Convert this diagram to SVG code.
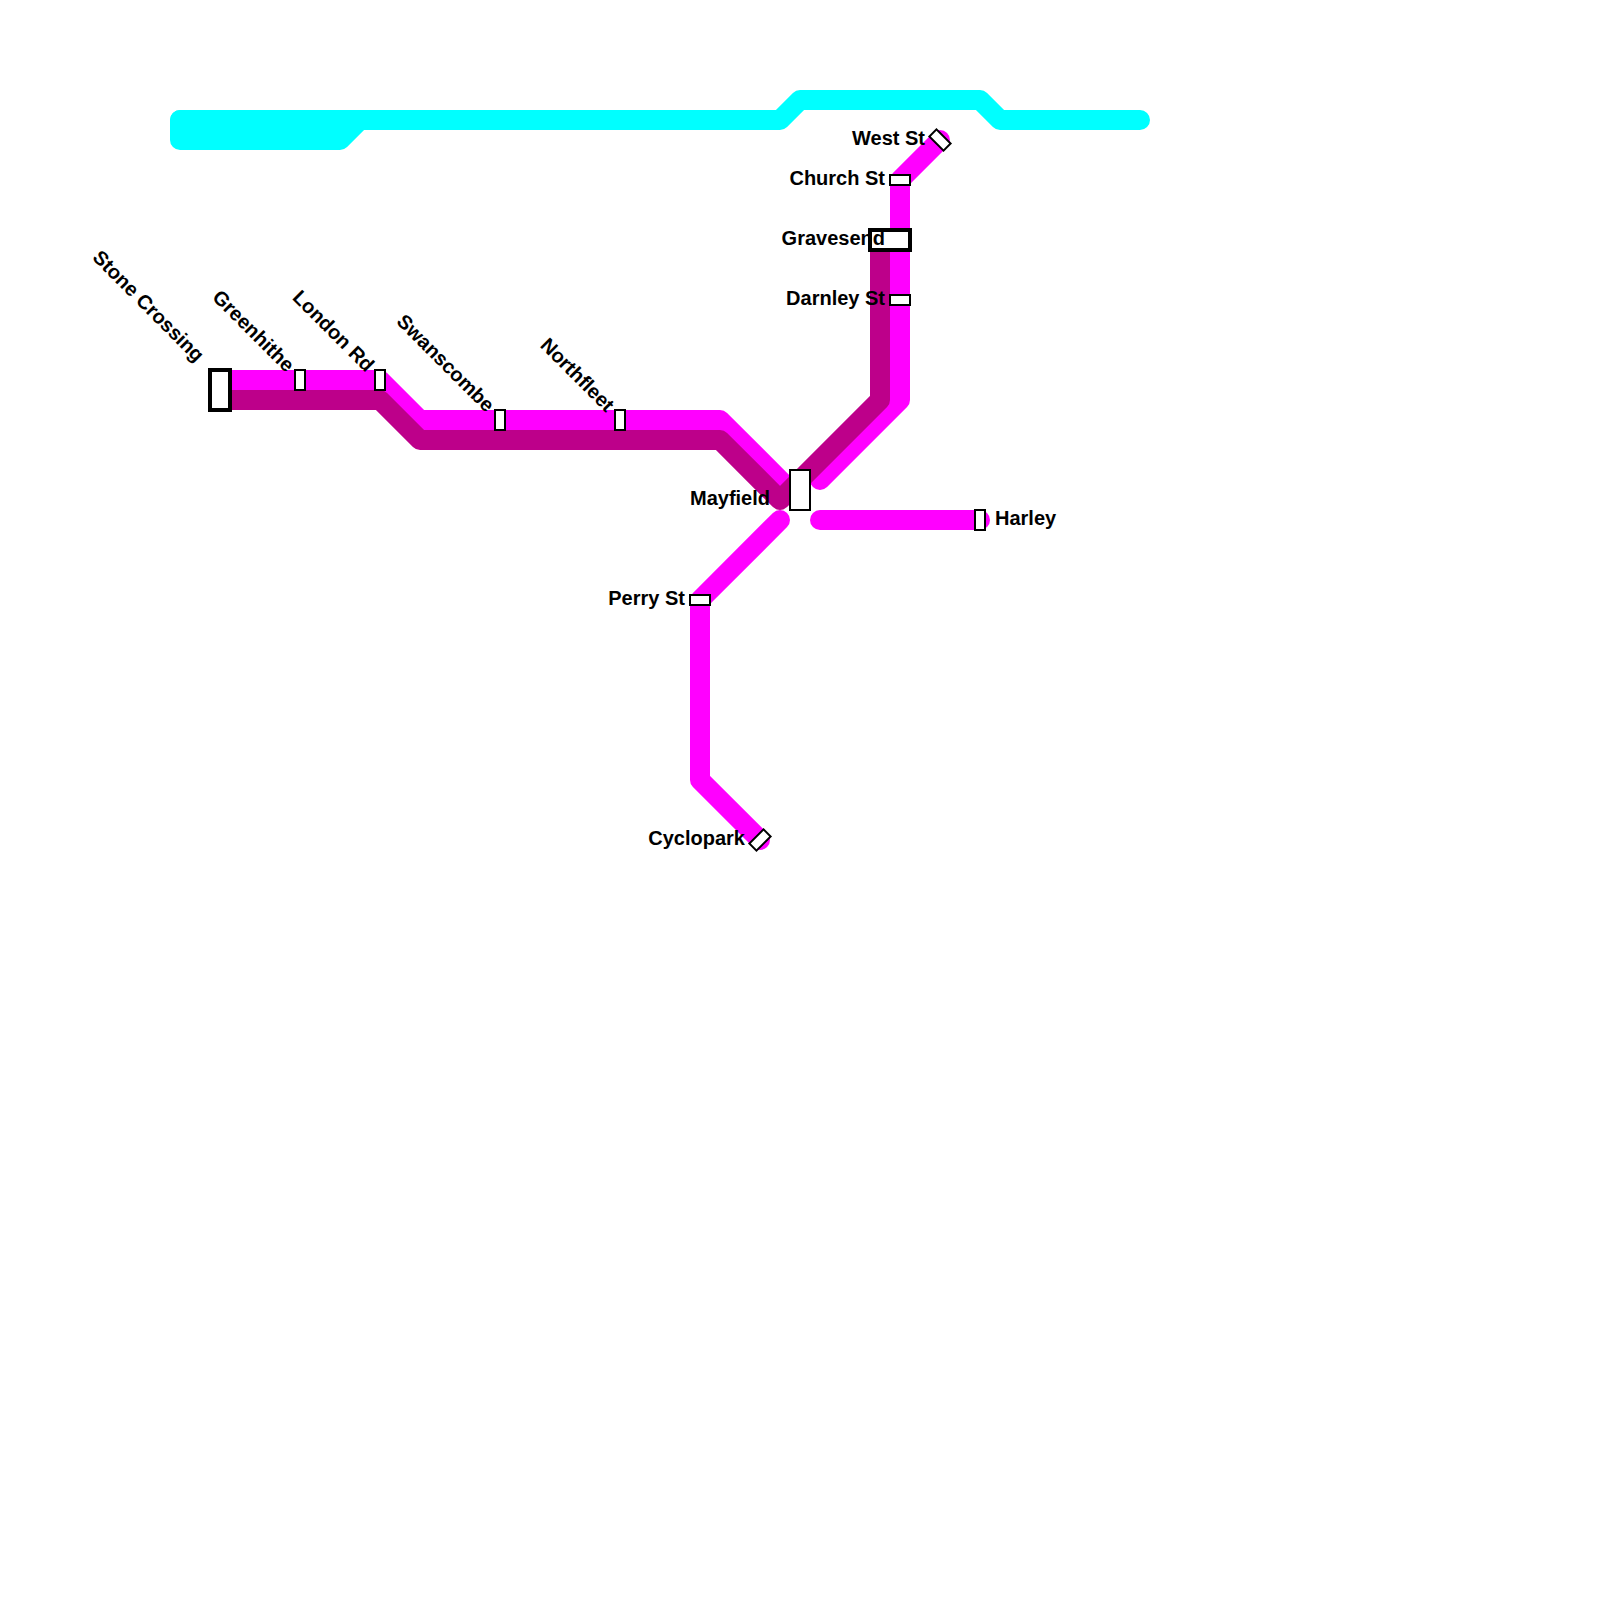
<svg xmlns="http://www.w3.org/2000/svg" width="1600" height="1600" viewBox="0 0 1600 1600">
<style>
.l{fill:none;stroke-width:20;stroke-linecap:round;stroke-linejoin:round}
.c{stroke:#00ffff}.m{stroke:#ff00ff}.d{stroke:#bd008a}
.s{fill:#fff;stroke:#000;stroke-width:2}
.i{fill:#fff;stroke:#000;stroke-width:4}
text{font-family:"Liberation Sans",Arial,sans-serif;font-size:20px;font-weight:700;fill:#000}
.e{text-anchor:end}
</style>
<rect width="1600" height="1600" fill="#fff"/>
<g id="connectors">
<polyline class="l c" points="180,120 780,120 800,100 980,100 1000,120 1140,120"/>
<polyline class="l c" points="180,120 180,140 340,140 360,120"/>
<polyline class="l m" points="220,380 380,380 420,420 720,420 800,500"/>
<polyline class="l m" points="820,480 900,400 900,180 940,140"/>
<polyline class="l m" points="820,520 980,520"/>
<polyline class="l m" points="780,520 700,600 700,780 760,840"/>
<polyline class="l d" points="220,400 380,400 420,440 720,440 780,500 880,400 880,240"/>
</g>
<g id="stone-crossing"><rect class="i" x="210" y="370" width="20" height="40"/><text class="e" transform="translate(196,363) rotate(45)">Stone Crossing</text></g>
<g id="greenhithe"><rect class="s" x="295" y="370" width="10" height="20"/><text class="e" transform="translate(286,373) rotate(45)">Greenhithe</text></g>
<g id="london-rd"><rect class="s" x="375" y="370" width="10" height="20"/><text class="e" transform="translate(366,373) rotate(45)">London Rd</text></g>
<g id="swanscombe"><rect class="s" x="495" y="410" width="10" height="20"/><text class="e" transform="translate(486,413) rotate(45)">Swanscombe</text></g>
<g id="northfleet"><rect class="s" x="615" y="410" width="10" height="20"/><text class="e" transform="translate(606,413) rotate(45)">Northfleet</text></g>
<g id="mayfield"><rect class="s" x="790" y="470" width="20" height="40"/><text class="e" x="770" y="505">Mayfield</text></g>
<g id="harley"><rect class="s" x="975" y="510" width="10" height="20"/><text x="995" y="525">Harley</text></g>
<g id="perry-st"><rect class="s" x="690" y="595" width="20" height="10"/><text class="e" x="685" y="605">Perry St</text></g>
<g id="cyclopark"><rect class="s" x="-10" y="-5" width="20" height="10" transform="translate(760,840) rotate(-45)"/><text class="e" x="745" y="845">Cyclopark</text></g>
<g id="west-st"><rect class="s" x="-10" y="-5" width="20" height="10" transform="translate(940,140) rotate(45)"/><text class="e" x="925" y="145">West St</text></g>
<g id="church-st"><rect class="s" x="890" y="175" width="20" height="10"/><text class="e" x="885" y="185">Church St</text></g>
<g id="gravesend"><rect class="i" x="870" y="230" width="40" height="20"/><text class="e" x="885" y="245">Gravesend</text></g>
<g id="darnley-st"><rect class="s" x="890" y="295" width="20" height="10"/><text class="e" x="885" y="305">Darnley St</text></g>
</svg>
